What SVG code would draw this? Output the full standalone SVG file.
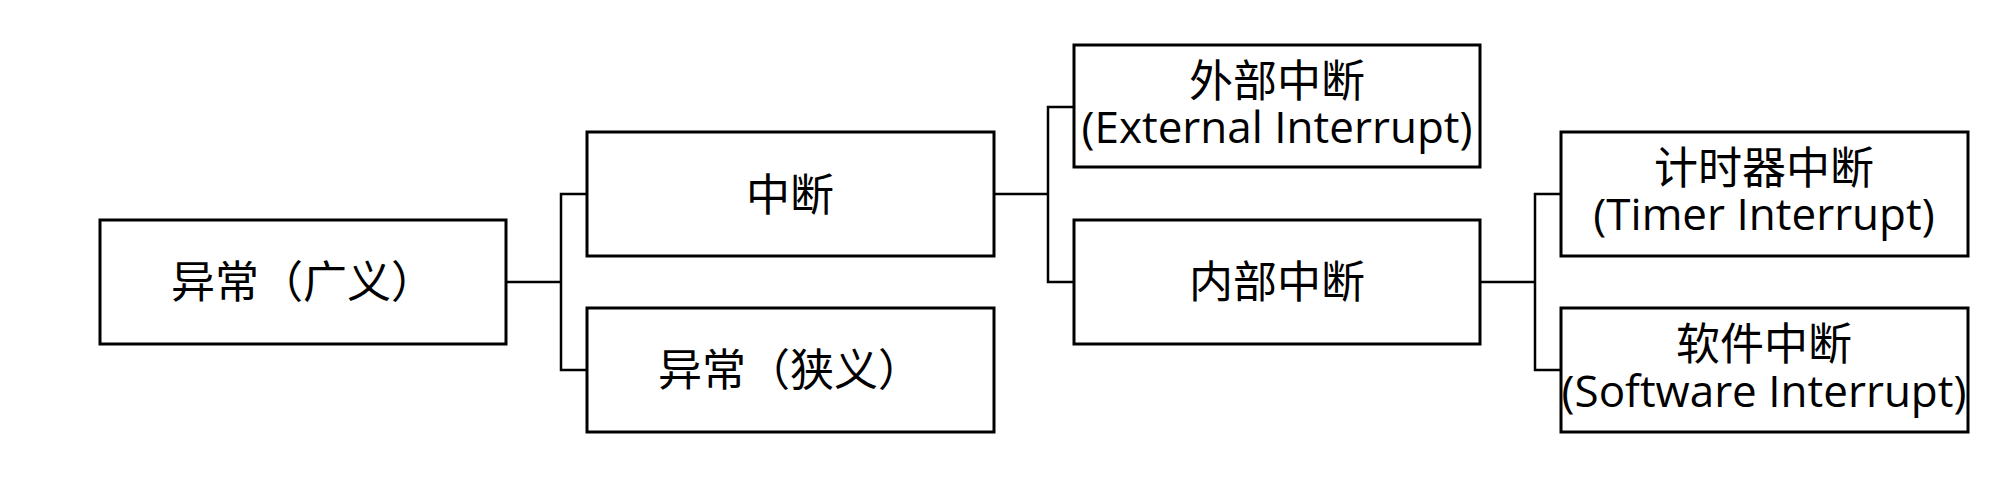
<svg xmlns="http://www.w3.org/2000/svg" width="2015" height="492" viewBox="0 0 2015 492">
<style>
.box{fill:#fff;stroke:#000;stroke-width:3}
.conn{fill:none;stroke:#000;stroke-width:2.5}
.c{font-family:"Noto Sans CJK SC",sans-serif;font-size:44px;fill:#000;text-anchor:middle}
.e{font-family:"Open Sans","Noto Sans CJK SC",sans-serif}
</style>
<rect width="2015" height="492" fill="#fff"/>
<g id="connectors">
<path class="conn" d="M506 282 H561"/>
<path class="conn" d="M587 194 H561 V370 H587"/>
<path class="conn" d="M994 194 H1048"/>
<path class="conn" d="M1074 107 H1048 V282 H1074"/>
<path class="conn" d="M1480 282 H1535"/>
<path class="conn" d="M1561 194 H1535 V370 H1561"/>
</g>
<g id="n_exception_broad">
<rect class="box" x="100" y="220" width="406" height="124"/>
<text class="c" x="303" y="298">异常（广义）</text>
</g>
<g id="n_interrupt">
<rect class="box" x="587" y="132" width="407" height="124"/>
<text class="c" x="790" y="211">中断</text>
</g>
<g id="n_exception_narrow">
<rect class="box" x="587" y="308" width="407" height="124"/>
<text class="c" x="790" y="386">异常（狭义）</text>
</g>
<g id="n_external">
<rect class="box" x="1074" y="45" width="406" height="122"/>
<text class="c" x="1277" y="97">外部中断<tspan class="e" x="1277" y="143">(External Interrupt)</tspan></text>
</g>
<g id="n_internal">
<rect class="box" x="1074" y="220" width="406" height="124"/>
<text class="c" x="1277" y="298">内部中断</text>
</g>
<g id="n_timer">
<rect class="box" x="1561" y="132" width="407" height="124"/>
<text class="c" x="1764" y="184">计时器中断<tspan class="e" x="1764" y="230">(Timer Interrupt)</tspan></text>
</g>
<g id="n_software">
<rect class="box" x="1561" y="308" width="407" height="124"/>
<text class="c" x="1764" y="360">软件中断<tspan class="e" x="1764" y="407">(Software Interrupt)</tspan></text>
</g>
</svg>
